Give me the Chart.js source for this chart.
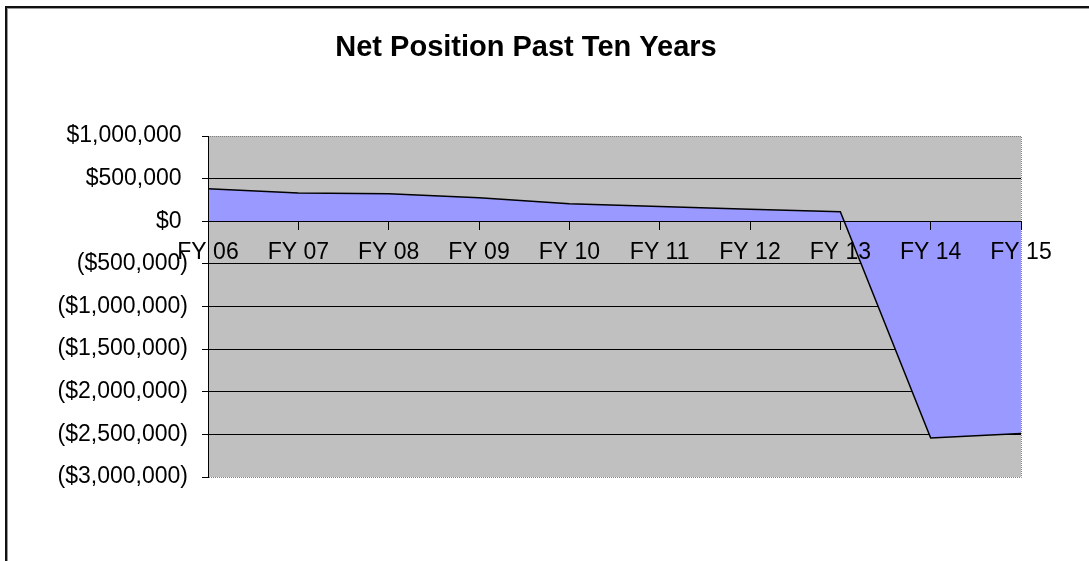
<!DOCTYPE html>
<html>
<head>
<meta charset="utf-8">
<title>Net Position Past Ten Years</title>
<script src="https://cdn.jsdelivr.net/npm/chart.js@4.4.1/dist/chart.umd.min.js"></script>
<style>
	html, body { margin : 0; padding : 0; background : #ffffff; overflow : hidden; }
	#wrap { position : relative; width : 1089px; height : 561px; }
	#frame {
		position : absolute; left : 5px; top : 6px; width : 1200px; height : 700px;
		border-left : 2px solid #111; border-top : 2px solid #111;
		box-shadow : inset 1px 1px 0 #999;
	}
	#net-position { position : absolute; left : 0; top : 0; }
</style>
</head>
<body>
<div id="wrap">
	<div id="frame"></div>
	<canvas id="net-position" width="1089" height="561"></canvas>
</div>
<script>
var years = ["FY 06", "FY 07", "FY 08", "FY 09", "FY 10", "FY 11", "FY 12", "FY 13", "FY 14", "FY 15"];
var netPosition = [382000, 330000, 323000, 276000, 205000, 174000, 142000, 111000, -2542000, -2491000];
var yTicks = [1000000, 500000, 0, -500000, -1000000, -1500000, -2000000, -2500000, -3000000];

function money(v) {
	var s = "$" + Math.abs(v).toLocaleString("en-US");
	// positive numbers leave room for the closing bracket, like the Excel format
	return v < 0 ? "(" + s + ")" : s + " ";
}

var plotFrame = {
	id : "plotFrame",
	beforeDraw : function(chart) {
		var a = chart.chartArea, c = chart.ctx;
		c.save();
		c.fillStyle = "#c0c0c0";
		c.fillRect(a.left, a.top, a.right - a.left, a.bottom - a.top);
		c.restore();
	},
	afterDatasetsDraw : function(chart) {
		var a = chart.chartArea, c = chart.ctx;
		c.save();
		c.strokeStyle = "#808080";
		c.lineWidth = 1;
		c.setLineDash([1, 1]);
		c.beginPath();
		c.moveTo(a.left, a.top + 0.5);
		c.lineTo(a.right + 0.5, a.top + 0.5);
		c.lineTo(a.right + 0.5, a.bottom + 0.5);
		c.lineTo(a.left, a.bottom + 0.5);
		c.stroke();
		c.restore();
	},
	afterDraw : function(chart) {
		var c = chart.ctx;
		c.save();
		c.fillStyle = "#000";
		c.font = "bold 29px 'Liberation Sans', Arial, sans-serif";
		c.textAlign = "center";
		c.textBaseline = "middle";
		c.fillText("Net Position Past Ten Years", 526, 48);
		c.restore();
	}
};

var data = {
	labels : years,
	datasets : [
		{
			label : "Net Position",
			data : netPosition,
			backgroundColor : "#9999ff",
			borderColor : "#000000",
			borderWidth : 1.5,
			fill : "origin",
			tension : 0,
			pointRadius : 0
		}
	]
};

var tickFont = { family : "'Liberation Sans', Arial, sans-serif", size : 23 };

var options = {
	responsive : false,
	animation : false,
	layout : { padding : { top : 136, right : 68, bottom : 84, left : 0 } },
	plugins : {
		legend : { display : false },
		tooltip : { enabled : false }
	},
	scales : {
		x : {
			position : { y : 0 },
			offset : false,
			grid : { drawOnChartArea : false, color : "#000", tickColor : "#000", tickLength : 8, z : 1 },
			border : { display : true, color : "#000", width : 1, z : 1 },
			ticks : { color : "#000", font : tickFont, padding : 10, autoSkip : false, maxRotation : 0, z : 1 },
			afterFit : function(scale) { scale.height = 0; }
		},
		y : {
			min : -3000000,
			max : 1000000,
			afterBuildTicks : function(scale) {
				scale.ticks = yTicks.map(function(v) { return { value : v }; });
			},
			grid : {
				color : function(ctx) {
					var v = ctx.tick ? ctx.tick.value : null;
					return (v === 1000000 || v === -3000000 || v === 0) ? "rgba(0,0,0,0)" : "#000";
				},
				tickColor : "#000",
				tickLength : 6
			},
			border : { display : true, color : "#000", width : 1, z : 2 },
			ticks : {
				color : "#000",
				font : tickFont,
				padding : 14,
				callback : function(v) { return money(v); }
			},
			afterFit : function(scale) { scale.width = 208; }
		}
	}
};

var chart = new Chart(document.getElementById("net-position"), {
	type : "line",
	data : data,
	options : options,
	plugins : [plotFrame]
});
</script>
</body>
</html>
